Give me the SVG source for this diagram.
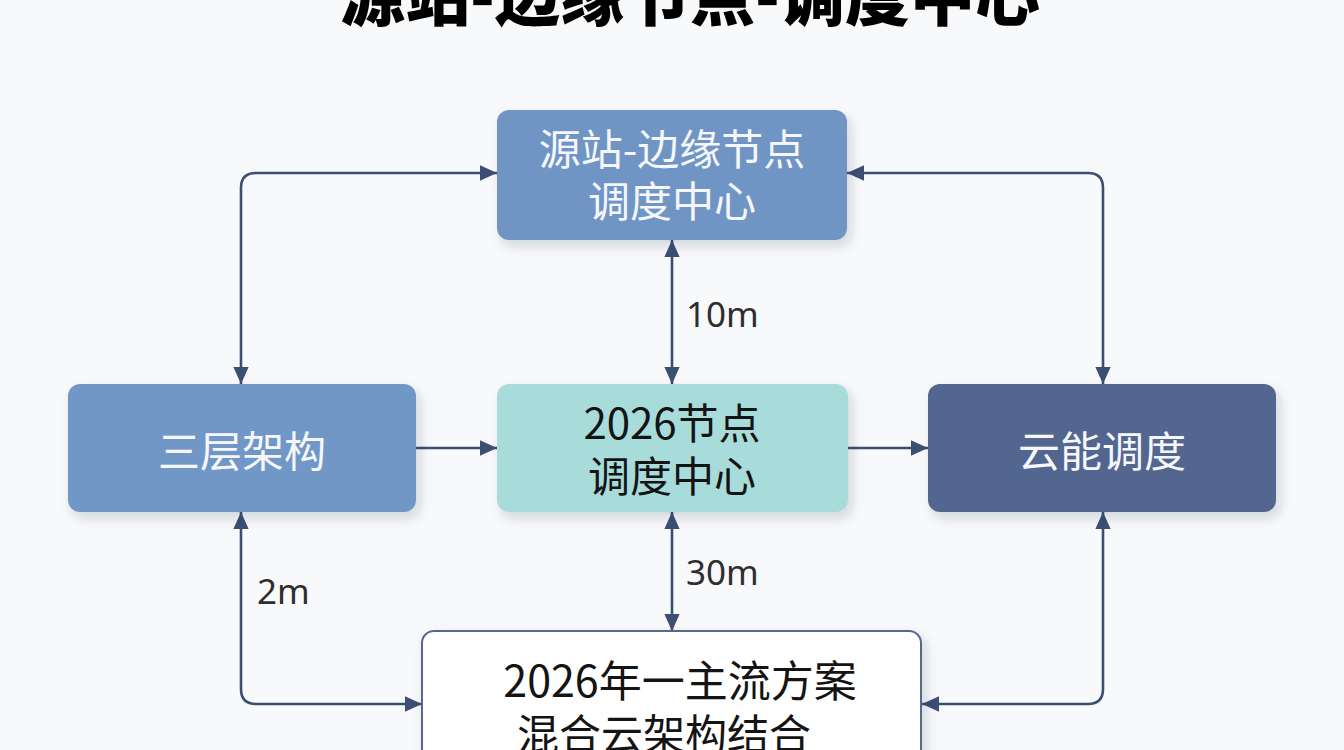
<svg xmlns="http://www.w3.org/2000/svg" width="1344" height="750" viewBox="0 0 1344 750">
<defs>
<style>
.cjk{font-family:"Noto Sans CJK SC","Noto Sans",sans-serif;text-anchor:middle}
.w{fill:#f5f7fb;font-size:42px}
.k{fill:#141414;font-size:42px}
.lbl{font-family:"Noto Sans","Open Sans",sans-serif;font-size:35px;fill:#2e2e2e}
.con{fill:none;stroke:#3d4e74;stroke-width:2.6}
</style>
<marker id="ah" viewBox="0 0 10 10" refX="10" refY="5" markerUnits="userSpaceOnUse" markerWidth="17" markerHeight="17" orient="auto-start-reverse">
<path d="M0,0.5 L10,5 L0,9.5 z" fill="#3d4e74"/>
</marker>
<filter id="sh" x="-10%" y="-20%" width="125%" height="150%">
<feDropShadow dx="4" dy="6" stdDeviation="6" flood-color="#1a2a45" flood-opacity="0.16"/>
</filter>
</defs>
<rect width="1344" height="750" fill="#f8f9fb"/>
<text x="690" y="20" class="cjk" style="font-size:65px;font-weight:900;fill:#000">源站-边缘节点-调度中心</text>

<g id="connectors">
<path class="con" d="M497,173 H256 Q241,173 241,188 V384" marker-start="url(#ah)" marker-end="url(#ah)"/>
<path class="con" d="M847,173 H1088 Q1103,173 1103,188 V384" marker-start="url(#ah)" marker-end="url(#ah)"/>
<path class="con" d="M672,240 V384" marker-start="url(#ah)" marker-end="url(#ah)"/>
<path class="con" d="M672,512 V631" marker-start="url(#ah)" marker-end="url(#ah)"/>
<path class="con" d="M416,448 H497" marker-end="url(#ah)"/>
<path class="con" d="M848,448 H928" marker-end="url(#ah)"/>
<path class="con" d="M241,512 V689 Q241,704 256,704 H422" marker-start="url(#ah)" marker-end="url(#ah)"/>
<path class="con" d="M1103,512 V689 Q1103,704 1088,704 H922" marker-start="url(#ah)" marker-end="url(#ah)"/>
<text x="686" y="327" class="lbl">10m</text>
<text x="686" y="585" class="lbl">30m</text>
<text x="257" y="604" class="lbl">2m</text>
</g>

<g id="node-top">
<rect x="497" y="110" width="350" height="130" rx="12" fill="#7095c5" filter="url(#sh)"/>
<text x="672" y="165" class="cjk w">源站-边缘节点</text>
<text x="672" y="217" class="cjk w">调度中心</text>
</g>

<g id="node-left">
<rect x="68" y="384" width="348" height="128" rx="12" fill="#7197c7" filter="url(#sh)"/>
<text x="242" y="467" class="cjk w">三层架构</text>
</g>

<g id="node-middle">
<rect x="497" y="384" width="351" height="128" rx="12" fill="#a7dcdb" filter="url(#sh)"/>
<text x="672" y="439" class="cjk k">2026节点</text>
<text x="672" y="492" class="cjk k">调度中心</text>
</g>

<g id="node-right">
<rect x="928" y="384" width="348" height="128" rx="12" fill="#52668f" filter="url(#sh)"/>
<text x="1102" y="467" class="cjk w">云能调度</text>
</g>

<g id="node-bottom">
<rect x="422" y="631" width="499" height="160" rx="12" fill="#ffffff" stroke="#56698c" stroke-width="2" filter="url(#sh)"/>
<text x="680" y="697" class="cjk k" style="font-size:43px">2026年一主流方案</text>
<text x="664" y="750" class="cjk k">混合云架构结合</text>
</g>
</svg>
